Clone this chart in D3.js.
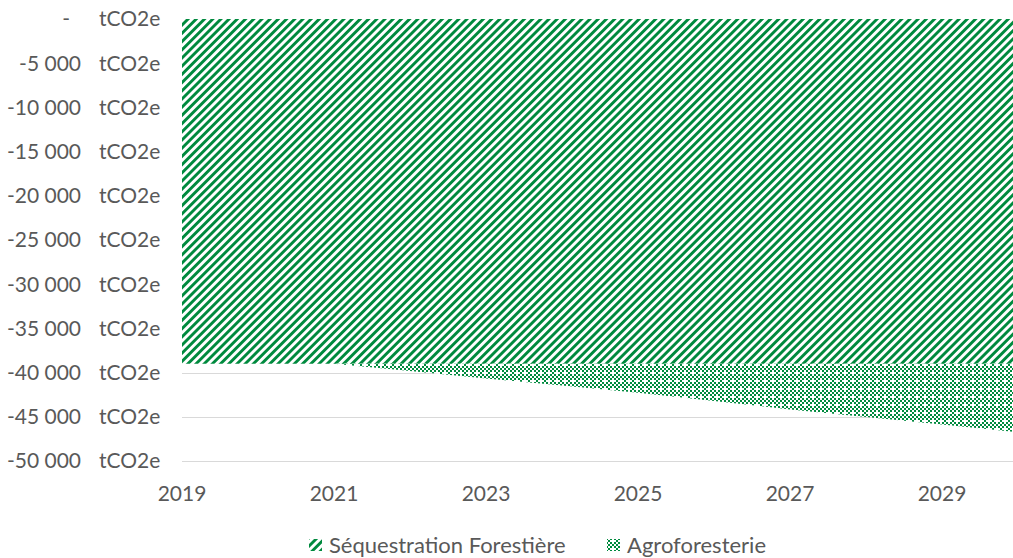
<!DOCTYPE html>
<html>
<head>
<meta charset="utf-8">
<script src="https://cdn.jsdelivr.net/npm/d3@7"></script>
<style>
  html, body { margin: 0; padding: 0; background: #fff; }
  svg { display: block; }
  text { font-family: Lato, "Open Sans", sans-serif; fill: #595959; }
</style>
</head>
<body>
<svg id="chart" width="1013" height="558"></svg>
<script>
// Annual emissions balance (tCO2e), stacked below zero
const years = [2019, 2020, 2021, 2022, 2023, 2024, 2025, 2026, 2027, 2028, 2029, 2030];
const forestSequestration = [-39000, -39000, -39000, -39000, -39000, -39000, -39000, -39000, -39000, -39000, -39000, -39000];
const agroforestry = [0, 0, 0, -830, -1670, -2470, -3270, -4220, -5170, -6020, -6870, -7750];
const seriesNames = ["Séquestration Forestière", "Agroforesterie"];
const yTicks = [0, -5000, -10000, -15000, -20000, -25000, -30000, -35000, -40000, -45000, -50000];
const xTicks = [2019, 2021, 2023, 2025, 2027, 2029];

const svg = d3.select("#chart");
const W = 1013, H = 558;
const green = "#008a3e";

const x = d3.scaleLinear().domain([2019, 2030]).range([182, 1018]);
const y = d3.scaleLinear().domain([-50000, 0]).range([461, 19]);

// Fill patterns
const defs = svg.append("defs");
const stripes = defs.append("pattern")
  .attr("id", "stripes")
  .attr("patternUnits", "userSpaceOnUse")
  .attr("width", 5.8).attr("height", 5.8)
  .attr("patternTransform", "rotate(45)");
stripes.append("rect").attr("width", 5.8).attr("height", 5.8).attr("fill", "#fff");
stripes.append("rect").attr("width", 2.9).attr("height", 5.8).attr("fill", green);

const checker = defs.append("pattern")
  .attr("id", "checker")
  .attr("patternUnits", "userSpaceOnUse")
  .attr("width", 8).attr("height", 8);
checker.append("rect").attr("width", 8).attr("height", 8).attr("fill", "#fff");
for (let i = 0; i < 4; i++) {
  for (let j = 0; j < 4; j++) {
    if ((i + j) % 2 === 0 && !(i === 2 && j === 2)) {
      checker.append("rect")
        .attr("x", i * 2).attr("y", j * 2)
        .attr("width", 2).attr("height", 2)
        .attr("fill", green);
    }
  }
}

// Gridlines
svg.append("g")
  .selectAll("line")
  .data(yTicks)
  .join("line")
  .attr("x1", 182).attr("x2", W)
  .attr("y1", d => Math.round(y(d)) + 0.5)
  .attr("y2", d => Math.round(y(d)) + 0.5)
  .attr("stroke", "#d9d9d9")
  .attr("stroke-width", 1.2);

// Stacked areas (all values are negative, so the default offset stacks downward)
const rows = years.map((yr, i) => ({ year: yr, forest: forestSequestration[i], agro: agroforestry[i] }));
const layers = d3.stack().keys(["forest", "agro"])(rows);
const area = d3.area()
  .x(d => x(d.data.year))
  .y0(d => y(d[0]))
  .y1(d => y(d[1]));

svg.append("g")
  .selectAll("path")
  .data(layers)
  .join("path")
  .attr("d", area)
  .attr("fill", (d, i) => i === 0 ? "url(#stripes)" : "url(#checker)");

// Y axis labels (accounting style)
const fmt = v => v === 0 ? "-" : d3.format(",")(v).replace(/,/g, " ").replace("−", "-");
const yLab = svg.append("g").attr("font-size", 21);
yTicks.forEach(t => {
  yLab.append("text")
    .attr("x", t === 0 ? 70 : 81)
    .attr("y", y(t))
    .attr("dy", "0.35em")
    .attr("text-anchor", "end")
    .text(fmt(t));
  yLab.append("text")
    .attr("x", 99)
    .attr("y", y(t))
    .attr("dy", "0.35em")
    .text("tCO2e");
});

// X axis labels
svg.append("g")
  .attr("font-size", 21)
  .selectAll("text")
  .data(xTicks)
  .join("text")
  .attr("x", d => x(d))
  .attr("y", 501)
  .attr("text-anchor", "middle")
  .text(d => d);

// Legend
const legend = svg.append("g").attr("font-size", 22);
const legendItems = [
  { name: seriesNames[0], fill: "url(#stripes)", x: 309 },
  { name: seriesNames[1], fill: "url(#checker)", x: 607 }
];
legendItems.forEach(it => {
  legend.append("rect")
    .attr("x", it.x).attr("y", 539)
    .attr("width", 13).attr("height", 12)
    .attr("fill", it.fill);
  legend.append("text")
    .attr("x", it.x + 20)
    .attr("y", 545)
    .attr("dy", "0.35em")
    .text(it.name);
});
</script>
</body>
</html>
